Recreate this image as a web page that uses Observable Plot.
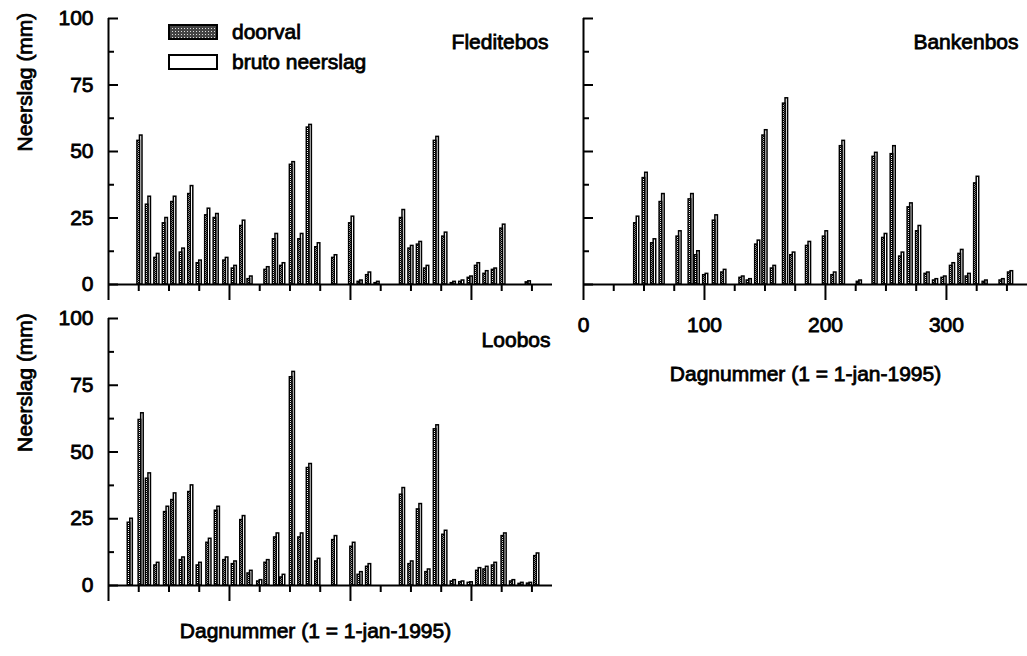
<!DOCTYPE html>
<html>
<head>
<meta charset="utf-8">
<script src="https://cdn.jsdelivr.net/npm/d3@7"></script>
<script src="https://cdn.jsdelivr.net/npm/@observablehq/plot@0.6"></script>
<style>
  body { margin: 0; background: #fff; }
  #chart { position: relative; width: 1027px; height: 656px; background: #fff;
           font-family: "Liberation Sans", Arial, Helvetica, sans-serif; color: #000; }
  #chart svg.panel { position: absolute; }
  #chart svg text { stroke: #000; stroke-width: 0.8px; }
  .legend-row { position: absolute; left: 168px; display: flex; align-items: center;
                font-size: 21px; line-height: 1; -webkit-text-stroke: 0.8px #000; }
  .swatch { width: 50px; height: 16px; margin-right: 14px; }
</style>
</head>
<body>
<svg width="0" height="0" style="position:absolute">
  <defs>
    <pattern id="doorval-fill" width="2" height="2" patternUnits="userSpaceOnUse">
      <rect width="2" height="2" fill="#fff"></rect>
      <rect width="1" height="1" fill="#000"></rect>
      <rect x="1" y="1" width="1" height="1" fill="#000"></rect>
    </pattern>
    <pattern id="legend-fill" width="3" height="3" patternUnits="userSpaceOnUse">
      <rect width="3" height="3" fill="#444"></rect>
      <rect x="1" y="1" width="1" height="1" fill="#ddd"></rect>
    </pattern>
  </defs>
</svg>
<div id="chart">
  <div class="legend-row" style="top:21px">
    <svg class="swatch" viewBox="0 0 50 16">
      <rect x="1" y="1" width="48" height="14" fill="url(#legend-fill)" stroke="#000" stroke-width="2"></rect>
    </svg><span>doorval</span>
  </div>
  <div class="legend-row" style="top:51px">
    <svg class="swatch" viewBox="0 0 50 16">
      <rect x="1" y="1" width="48" height="14" fill="#fff" stroke="#000" stroke-width="2"></rect>
    </svg><span>bruto neerslag</span>
  </div>
</div>
<script>
// Weekly rainfall per collection day (day number, 1 = 1 Jan 1995), mm
const fleditebosDays    = [26, 33, 40, 47, 54, 61, 68, 75, 82, 89, 97, 104, 111, 117, 131, 138, 144, 152, 159, 166, 173, 187, 201, 208, 215, 222, 243, 250, 257, 263, 271, 278, 285, 292, 299, 305, 312, 319, 326, 347];
const fleditebosBruto   = [56, 33, 11.5, 25, 33, 13.5, 37, 9, 28.5, 26.5, 10, 7, 24, 3, 6.5, 19, 8, 46, 19, 60, 15.5, 11, 25.5, 1.5, 4.5, 1, 28, 14.5, 16, 7, 55.5, 19.5, 1, 1.5, 3, 8, 5, 6, 22.5, 1.2];
const fleditebosDoorval = [54, 30, 10, 23, 31, 12, 34, 8, 26, 25, 9, 6, 22, 2, 5.5, 17, 7, 45, 17, 59, 14, 10, 23, 1, 3.5, 0.5, 25, 13.5, 15, 6, 54, 18, 0.5, 1, 2.5, 7, 4, 5.5, 21, 0.8];

const bankenbosDays    = [44, 51, 58, 65, 79, 89, 94, 101, 109, 116, 131, 137, 144, 150, 157, 167, 173, 186, 200, 207, 214, 228, 241, 249, 256, 263, 270, 277, 284, 291, 298, 305, 312, 318, 325, 332, 346, 353];
const bankenbosBruto   = [25.5, 42, 17, 34, 20, 34, 12.5, 4, 26, 5.5, 3, 2, 16.5, 58, 7, 70, 12, 16, 20, 4.5, 54, 1.5, 49.5, 19, 52, 12, 30.5, 22, 4.5, 2, 3, 8, 13, 4, 40.5, 1.5, 2, 5];
const bankenbosDoorval = [23, 40, 15.5, 31, 18, 32, 11, 3.5, 24, 4.5, 2.5, 1.5, 15, 56, 6, 68, 11, 14.5, 18, 3.5, 52, 1, 48, 17.5, 49, 10.5, 29, 20, 4, 1.5, 2.5, 7, 11.5, 3, 38, 1, 1.5, 4.5];

const loobosDays    = [18, 27, 33, 40, 48, 54, 61, 68, 75, 83, 90, 97, 104, 111, 117, 125, 131, 139, 144, 152, 159, 166, 173, 187, 202, 208, 215, 243, 250, 257, 264, 271, 278, 285, 292, 299, 306, 312, 319, 327, 334, 341, 348, 354];
const loobosBruto   = [25, 64.5, 42, 8.5, 29.5, 34.5, 10.5, 37.5, 8.5, 17.5, 29.5, 10.5, 9, 26, 5.5, 2, 9.5, 19.5, 4, 80, 19.5, 45.5, 10, 18.5, 16, 5, 8, 36.5, 9, 30.5, 6, 60, 20.5, 2, 1.5, 1.2, 6.5, 7, 8.5, 19.5, 2, 1, 1, 12];
const loobosDoorval = [23.5, 62, 40, 7.5, 27.5, 32, 9.5, 35, 7.5, 16, 28, 9.5, 8, 24.5, 4.5, 1.5, 8.5, 18, 3, 78, 18, 44, 9, 17, 14.5, 4, 7, 34, 8, 28.5, 5, 58.5, 19, 1.5, 1.2, 1, 5.5, 6, 7.5, 18.5, 1.5, 0.6, 0.7, 11];

// Axis ticks
const dayTicksMajor = [0, 100, 200, 300];
const dayTicksMinor = [25, 50, 75, 125, 150, 175, 225, 250, 275, 325, 350];
const dayTickLabels = ["0", "100", "200", "300"];
const mmTicksMajor = [0, 25, 50, 75, 100];
const mmTicksMinor = [12.5, 37.5, 62.5, 87.5];
const yTitle = "Neerslag (mm)";
const xTitle = "Dagnummer (1 = 1-jan-1995)";

const toRows = (days, bruto, doorval) => days.map((day, i) => ({day, bruto: bruto[i], doorval: doorval[i]}));

const barDays = 2.1; // each bar of a pair is about two days wide

function panel({rows, name, left, top, width, height, marginLeft, marginRight, marginBottom,
                yLabels, xLabels, nameDx, nameDy, xTitleDx, xTitleDy, yTitleDx}) {
  const marks = [
    Plot.rect(rows, {x1: d => d.day, x2: d => d.day + barDays, y1: 0, y2: "bruto",
                     fill: "white", stroke: "black", strokeWidth: 1.5}),
    Plot.rect(rows, {x1: d => d.day - barDays, x2: d => d.day, y1: 0, y2: "doorval",
                     fill: "url(#doorval-fill)", stroke: "black", strokeWidth: 1.5}),
    Plot.ruleY([0], {strokeWidth: 2}),
    Plot.ruleX([0], {strokeWidth: 2}),
    Plot.axisX(dayTicksMajor, {tickSize: 16, tickFormat: () => "", strokeWidth: 2, label: null}),
    Plot.axisX(dayTicksMinor, {tickSize: 7, tickFormat: () => "", strokeWidth: 2, label: null}),
    Plot.axisY(mmTicksMajor, {tickSize: 10, dx: 10, tickFormat: () => "", strokeWidth: 2, label: null}),
    Plot.axisY(mmTicksMinor, {tickSize: 6, dx: 6, tickFormat: () => "", strokeWidth: 2, label: null}),
    Plot.text([name], {frameAnchor: "top-right", textAnchor: "end", dx: nameDx, dy: nameDy})
  ];
  if (yLabels) {
    marks.push(Plot.axisY(mmTicksMajor, {tickSize: 0, tickPadding: 15, label: null}));
    marks.push(Plot.text([yTitle], {frameAnchor: "left", rotate: -90, dx: yTitleDx}));
  }
  if (xLabels) {
    marks.push(Plot.axisX(dayTicksMajor, {tickSize: 0, tickPadding: 33, label: null,
                                          tickFormat: (d, i) => dayTickLabels[i]}));
  }
  if (xTitleDy != null) {
    marks.push(Plot.text([xTitle], {frameAnchor: "bottom", dx: xTitleDx, dy: xTitleDy}));
  }
  const svg = Plot.plot({
    width, height,
    marginLeft, marginRight, marginTop: 18, marginBottom,
    x: {domain: [0, 367], label: null},
    y: {domain: [0, 100], label: null},
    style: {background: "transparent", overflow: "visible", fontSize: "21px",
            fontFamily: '"Liberation Sans", Arial, Helvetica, sans-serif'},
    marks
  });
  svg.classList.add("panel");
  svg.style.left = left + "px";
  svg.style.top = top + "px";
  document.getElementById("chart").appendChild(svg);
}

panel({rows: toRows(fleditebosDays, fleditebosBruto, fleditebosDoorval), name: "Fleditebos",
       left: 0, top: 0, width: 560, height: 330, marginLeft: 108, marginRight: 8, marginBottom: 46,
       yLabels: true, xLabels: false, nameDx: -4, nameDy: 16, yTitleDx: -83});

panel({rows: toRows(bankenbosDays, bankenbosBruto, bankenbosDoorval), name: "Bankenbos",
       left: 563, top: 0, width: 464, height: 394, marginLeft: 20, marginRight: 0, marginBottom: 110,
       yLabels: false, xLabels: true, nameDx: -9, nameDy: 16, xTitleDx: 0, xTitleDy: 96});

panel({rows: toRows(loobosDays, loobosBruto, loobosDoorval), name: "Loobos",
       left: 0, top: 300, width: 560, height: 345, marginLeft: 108, marginRight: 8, marginBottom: 60,
       yLabels: true, xLabels: false, nameDx: -2, nameDy: 14, xTitleDx: -15, xTitleDy: 52, yTitleDx: -83});
</script>
</body>
</html>
